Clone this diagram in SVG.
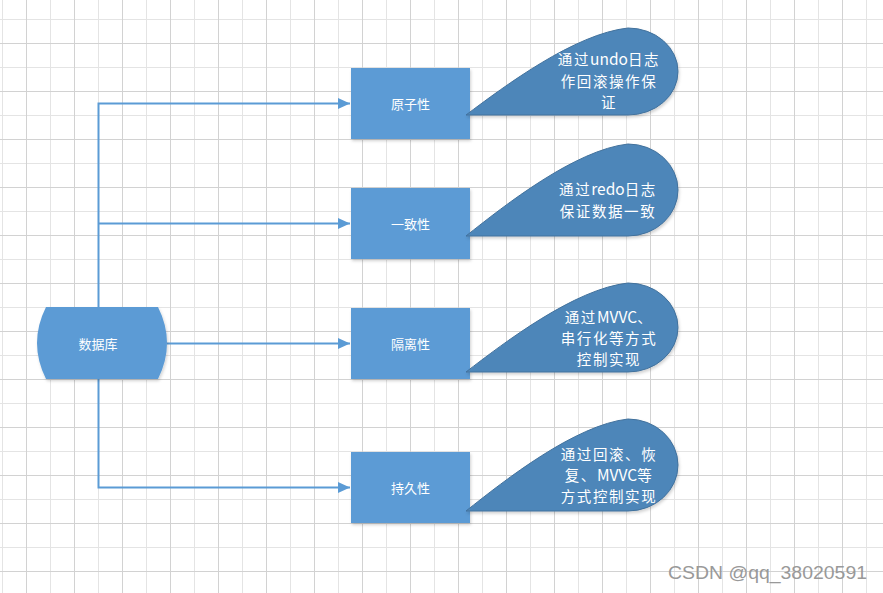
<svg xmlns="http://www.w3.org/2000/svg" width="883" height="593" viewBox="0 0 883 593">
<style>
.box{fill:#5b9bd5;filter:url(#sh)}
.db{fill:#5b9bd5;filter:url(#sh)}
.drop{fill:#4e86b9;stroke:#41719c;stroke-width:1;filter:url(#sh)}
.lbl{font-family:"Noto Sans CJK SC","Noto Sans",sans-serif;font-size:13px;fill:#ffffff;text-anchor:middle;dominant-baseline:central}
.note{font-family:"Noto Sans CJK SC","Noto Sans",sans-serif;font-size:14.5px;letter-spacing:1.6px;fill:#ffffff;text-anchor:middle;dominant-baseline:central}
.lt{letter-spacing:0px;font-size:15.5px}
.conn{fill:none;stroke:#5b9bd5;stroke-width:2}
</style>
<defs>
<pattern id="grid" patternUnits="userSpaceOnUse" x="2" y="19" width="48" height="48">
<rect x="0" y="0" width="1" height="48" fill="#e4e4e4"/>
<rect x="0" y="0" width="48" height="1" fill="#e4e4e4"/>
<rect x="24" y="0" width="1" height="48" fill="#d2d2d2"/>
<rect x="0" y="24" width="48" height="1" fill="#d2d2d2"/>
</pattern>
<filter id="sh" x="-10%" y="-10%" width="125%" height="130%">
<feDropShadow dx="1" dy="2" stdDeviation="1.5" flood-color="#000" flood-opacity="0.18"/>
</filter>
<marker id="arr" markerUnits="userSpaceOnUse" markerWidth="12" markerHeight="12" refX="12" refY="6" orient="auto">
<path d="M0,0.5 L12,6 L0,11.5 Z" fill="#5b9bd5"/>
</marker>
</defs>
<rect width="883" height="593" fill="#ffffff"/>
<rect width="883" height="593" fill="url(#grid)"/>

<g id="connectors">
<path class="conn" d="M98.5,307 L98.5,103.5 L350,103.5" marker-end="url(#arr)"/>
<path class="conn" d="M98.5,223.5 L350,223.5" marker-end="url(#arr)"/>
<path class="conn" d="M167,343.5 L350,343.5" marker-end="url(#arr)"/>
<path class="conn" d="M98.5,379 L98.5,487.5 L350,487.5" marker-end="url(#arr)"/>
</g>

<g id="database">
<path class="db" d="M46,307 L158,307 Q176,343 158,379 L46,379 Q28,343 46,307 Z"/>
<text class="lbl" x="98" y="343">数据库</text>
</g>

<g id="atomicity">
<rect class="box" x="351" y="68" width="119" height="71"/>
<text class="lbl" x="410.5" y="103">原子性</text>
</g>
<g id="consistency">
<rect class="box" x="351" y="188" width="119" height="71"/>
<text class="lbl" x="410.5" y="223">一致性</text>
</g>
<g id="isolation">
<rect class="box" x="351" y="308" width="119" height="71"/>
<text class="lbl" x="410.5" y="343">隔离性</text>
</g>
<g id="durability">
<rect class="box" x="351" y="452" width="119" height="71"/>
<text class="lbl" x="410.5" y="487">持久性</text>
</g>

<g id="note1">
<path class="drop" d="M466,115 C505,85.7 575,33.7 628,28 A50,43.5 0 0 1 628,115 Z"/>
<text class="note"><tspan x="609" y="58">通过<tspan class="lt">undo</tspan>日志</tspan><tspan x="609" y="79.5">作回滚操作保</tspan><tspan x="609" y="101">证</tspan></text>
</g>
<g id="note2">
<path class="drop" d="M466,236 C505,205 575,150 628,144 A50,46 0 0 1 628,236 Z"/>
<text class="note"><tspan x="608" y="187.5">通过<tspan class="lt">redo</tspan>日志</tspan><tspan x="608" y="210">保证数据一致</tspan></text>
</g>
<g id="note3">
<path class="drop" d="M466,372 C505,342 575,288.8 628,283 A50,44.5 0 0 1 628,372 Z"/>
<text class="note"><tspan x="609" y="316">通过<tspan class="lt">MVVC</tspan>、</tspan><tspan x="609" y="337">串行化等方式</tspan><tspan x="609" y="358">控制实现</tspan></text>
</g>
<g id="note4">
<path class="drop" d="M466,511 C505,480 575,425 628,419 A50,46 0 0 1 628,511 Z"/>
<text class="note"><tspan x="609" y="453">通过回滚、恢</tspan><tspan x="609" y="474">复、<tspan class="lt">MVVC</tspan>等</tspan><tspan x="609" y="495">方式控制实现</tspan></text>
</g>

<text x="668" y="579" font-family="'Liberation Sans',Arial,sans-serif" font-size="17.5" fill="#999999" textLength="199" lengthAdjust="spacingAndGlyphs">CSDN @qq_38020591</text>
</svg>
